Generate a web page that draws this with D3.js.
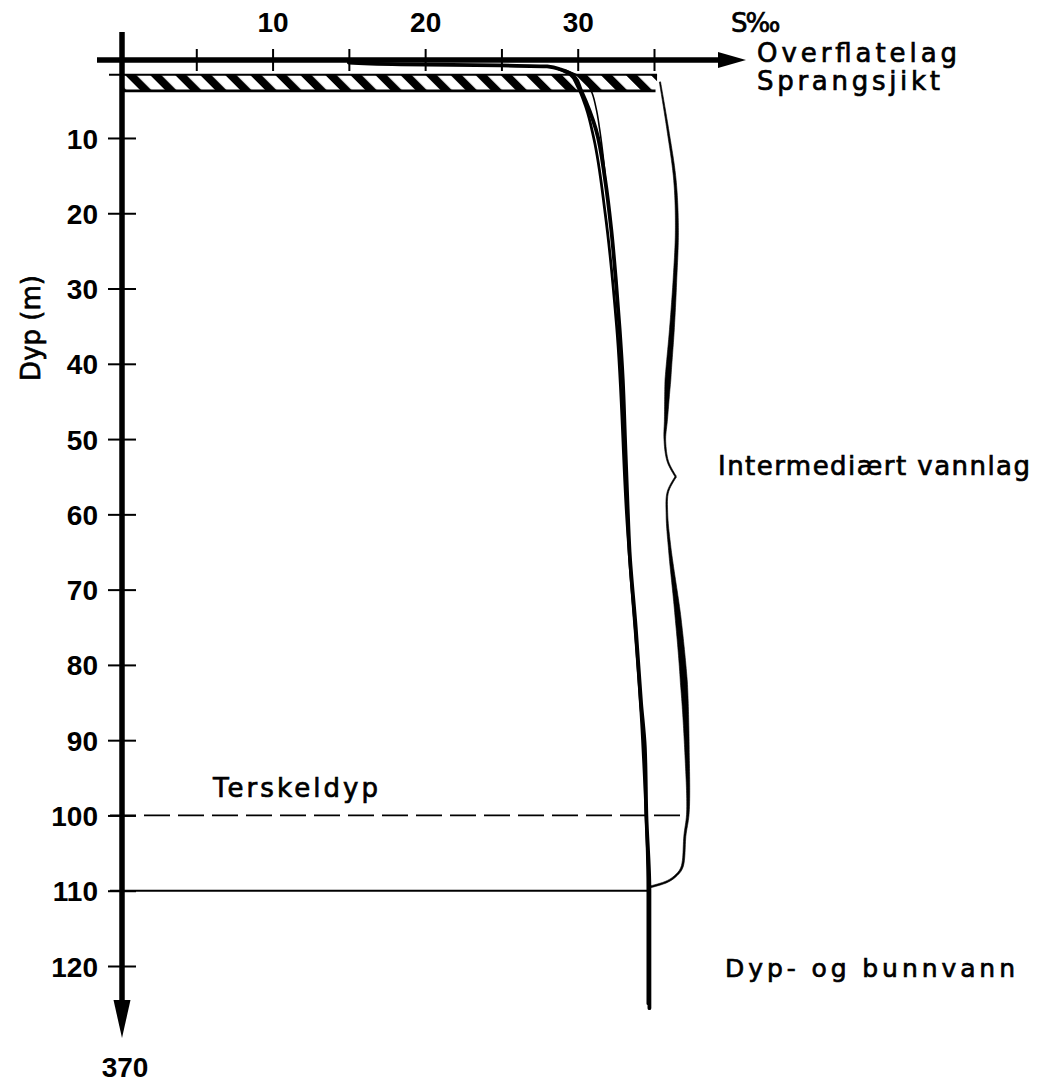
<!DOCTYPE html>
<html>
<head>
<meta charset="utf-8">
<script src="https://cdn.jsdelivr.net/npm/d3@7"></script>
<style>
  html, body { margin: 0; padding: 0; background: #fff; }
  svg { display: block; }
  .lbl { font-family: "DejaVu Sans", sans-serif; fill: #000; stroke: #000; stroke-width: 0.7px; }
  .num { font-family: "Liberation Sans", Arial, sans-serif; font-weight: 700; fill: #000; }
</style>
</head>
<body>
<div id="chart"></div>
<script>
// Salinity (S‰) profiles against depth (m).
const xTicks = [5, 10, 15, 20, 25, 30, 35];
const xLabels = [10, 20, 30];
const yTicks = [10, 20, 30, 40, 50, 60, 70, 80, 90, 100, 110, 120];

// main profile, starting with brackish surface water
const mainDepth = [0, 0.22, 0.36, 0.5, 0.9, 1.9, 3.6, 8.9, 15.6, 22.2, 28.9, 35.5, 42, 50, 58, 65, 75, 85, 91, 100, 110, 125.6];
const mainSal   = [15, 18.4, 24.9, 28.0, 28.9, 29.8, 30.2, 31.2, 31.8, 32.2, 32.5, 32.75, 32.95, 33.1, 33.25, 33.4, 33.8, 34.15, 34.4, 34.5, 34.7, 34.7];
// the other profiles in the bundle
const prof2Depth = [1.0, 2.0, 3.6, 6, 9, 13, 17];
const prof2Sal   = [29.2, 30.3, 30.85, 31.2, 31.45, 31.7, 31.9];
const prof3Depth = [0.8, 1.6, 3.0, 6, 10, 20, 35, 60, 90, 110, 125];
const prof3Sal   = [28.7, 29.5, 29.95, 30.55, 31.05, 31.8, 32.55, 33.2, 34.25, 34.6, 34.6];

// layer limits (m)
const sprangsjikt = [1.6, 3.75];
const terskelDyp = 100;
const bunnGrense = 110;
const maxDyp = "370";

// brace marking the intermediate layer
const braceDepth = [2.56, 8.94, 15.6, 22.2, 28.9, 35.5, 42.2, 47.5, 50.1, 53.0, 55.0, 57.0, 60.1, 64.7, 73.6, 82.4, 91.3, 99.7, 102.6, 106.9, 108.0, 108.8, 109.5];
const braceSal   = [35.39, 35.91, 36.37, 36.5, 36.37, 36.17, 35.91, 35.78, 35.71, 35.91, 36.43, 35.91, 35.85, 36.04, 36.57, 36.96, 37.16, 37.22, 37.03, 36.83, 36.43, 35.85, 34.73];

const W = 1053, H = 1082;
const svg = d3.select("#chart").append("svg").attr("width", W).attr("height", H);
svg.append("rect").attr("width", W).attr("height", H).attr("fill", "#fff");

const x = d3.scaleLinear().domain([0, 35]).range([120, 654]);
const y = d3.scaleLinear().domain([0, 120]).range([62.7, 966]);
const axisX = x(0) + 2, axisY = 60;

// hatch for the pycnocline band
const defs = svg.append("defs");
const pat = defs.append("pattern").attr("id", "hatch")
  .attr("patternUnits", "userSpaceOnUse")
  .attr("width", 17.7).attr("height", 20)
  .attr("patternTransform", "rotate(-45)");
pat.append("rect").attr("width", 17.7).attr("height", 20).attr("fill", "#fff");
pat.append("rect").attr("width", 8).attr("height", 20).attr("fill", "#000");

const bandTop = y(sprangsjikt[0]), bandBot = y(sprangsjikt[1]);
svg.append("rect")
  .attr("x", axisX).attr("y", bandTop)
  .attr("width", x(35.2) - axisX).attr("height", bandBot - bandTop)
  .attr("fill", "url(#hatch)");
svg.append("line").attr("x1", axisX - 13).attr("x2", x(35.2))
  .attr("y1", bandTop).attr("y2", bandTop).attr("stroke", "#000").attr("stroke-width", 1.8);
svg.append("line").attr("x1", axisX).attr("x2", x(35.1))
  .attr("y1", bandBot).attr("y2", bandBot).attr("stroke", "#000").attr("stroke-width", 2.8);

// threshold depth (dashed) and bottom-water boundary
svg.append("line")
  .attr("x1", axisX - 12).attr("x2", x(37.25))
  .attr("y1", y(terskelDyp)).attr("y2", y(terskelDyp))
  .attr("stroke", "#000").attr("stroke-width", 1.8)
  .attr("stroke-dasharray", "26 8");
svg.append("line")
  .attr("x1", axisX - 12).attr("x2", x(34.73))
  .attr("y1", y(bunnGrense)).attr("y2", y(bunnGrense))
  .attr("stroke", "#000").attr("stroke-width", 2);

// salinity profiles
const zip = (ds, ss) => ds.map((d, i) => ({ d, s: ss[i] }));
const line = d3.line().x(p => x(p.s)).y(p => y(p.d)).curve(d3.curveMonotoneY);
const g = svg.append("g").attr("fill", "none").attr("stroke", "#000")
  .attr("stroke-linecap", "round").attr("stroke-linejoin", "round");
g.append("path").attr("d", line(zip(prof3Depth, prof3Sal))).attr("stroke-width", 2.8);
g.append("path").attr("d", line(zip(prof2Depth, prof2Sal))).attr("stroke-width", 1.6);
g.append("path").attr("d", line(zip(mainDepth, mainSal))).attr("stroke-width", 3.8);

// brace: calligraphic ribbon with a pointed tip
const braceWeight = [1.2, 1.8, 2.4, 3.0, 3.6, 4.8, 5.8, 3, 1.6, 1.4, 1.4, 1.4, 1.6, 2.6, 5.8, 7, 4.5, 2.5, 2, 2, 1.8, 1.8, 1.8];
const wAt = d3.scaleLinear().domain(braceDepth).range(braceWeight);
const tipIdx = 10;
const bracePts = zip(braceDepth, braceSal);
const segLine = d3.line().x(p => x(p.s)).y(p => y(p.d)).curve(d3.curveCatmullRom.alpha(0.5));
function ribbon(pts) {
  const tmp = svg.append("path").attr("d", segLine(pts)).attr("fill", "none");
  const node = tmp.node(), len = node.getTotalLength();
  const n = 160, samples = [];
  for (let i = 0; i <= n; i++) samples.push(node.getPointAtLength(len * i / n));
  tmp.remove();
  const left = [], right = [];
  samples.forEach((p, i) => {
    const a = samples[Math.max(0, i - 1)], b = samples[Math.min(n, i + 1)];
    let tx = b.x - a.x, ty = b.y - a.y;
    const l = Math.hypot(tx, ty) || 1; tx /= l; ty /= l;
    const w = wAt(y.invert(p.y)) / 2;
    left.push([p.x - ty * w, p.y + tx * w]);
    right.push([p.x + ty * w, p.y - tx * w]);
  });
  svg.append("path")
    .attr("d", "M" + left.concat(right.reverse()).map(q => q.join(",")).join("L") + "Z")
    .attr("fill", "#000").attr("stroke", "#000").attr("stroke-width", 0.6);
}
ribbon(bracePts.slice(0, tipIdx + 1));
ribbon(bracePts.slice(tipIdx));

// axes: thick arrows with crossing ticks
svg.append("line").attr("x1", 97).attr("x2", 722).attr("y1", axisY).attr("y2", axisY)
  .attr("stroke", "#000").attr("stroke-width", 5.5);
svg.append("path").attr("d", `M718,${axisY - 8}L746,${axisY}L718,${axisY + 8}Z`).attr("fill", "#000");
svg.append("line").attr("x1", axisX).attr("x2", axisX).attr("y1", 32).attr("y2", 1005)
  .attr("stroke", "#000").attr("stroke-width", 5.5);
svg.append("path").attr("d", `M${axisX - 8.5},1000L${axisX},1038L${axisX + 8.5},1000Z`).attr("fill", "#000");

const gxTicks = svg.append("g").attr("transform", `translate(0,${axisY - 11})`)
  .call(d3.axisBottom(x).tickValues(xTicks).tickSize(22).tickFormat(""));
const gyTicks = svg.append("g").attr("transform", `translate(${axisX - 14},0)`)
  .call(d3.axisRight(y).tickValues(yTicks).tickSize(28).tickFormat(""));
[gxTicks, gyTicks].forEach(a => {
  a.select(".domain").remove();
  a.selectAll(".tick line").attr("stroke", "#000").attr("stroke-width", 2);
});

const gxLab = svg.append("g").attr("transform", `translate(0,${axisY})`)
  .call(d3.axisTop(x).tickValues(xLabels).tickSize(0).tickPadding(28));
const gyLab = svg.append("g").attr("transform", `translate(${axisX},0)`)
  .call(d3.axisLeft(y).tickValues(yTicks).tickSize(0).tickPadding(24));
[gxLab, gyLab].forEach(a => {
  a.select(".domain").remove();
  a.selectAll("text").attr("class", "num").attr("font-size", 28).attr("fill", "#000");
});
gyLab.selectAll("text").attr("dy", "0.36em");

svg.append("text").attr("class", "num").attr("x", axisX + 3).attr("y", 1077)
  .attr("text-anchor", "middle").attr("font-size", 28).text(maxDyp);

// labels
const labels = [
  { t: "Overflatelag", x: 757, y: 62, size: 26, w: 200 },
  { t: "Sprangsjikt", x: 757, y: 90, size: 26, w: 183 },
  { t: "Intermediært vannlag", x: 718, y: 475, size: 26, w: 312 },
  { t: "Dyp- og bunnvann", x: 725, y: 977, size: 25, w: 290 },
  { t: "Terskeldyp", x: 213, y: 797, size: 26, w: 165 }
];
svg.selectAll("text.ann").data(labels).enter().append("text")
  .attr("class", "lbl ann")
  .attr("x", d => d.x).attr("y", d => d.y)
  .attr("font-size", d => d.size)
  .attr("textLength", d => d.w).attr("lengthAdjust", "spacing")
  .text(d => d.t);

svg.append("text").attr("class", "lbl").attr("x", 731).attr("y", 32)
  .attr("font-size", 26).attr("letter-spacing", -2).text("S‰");

svg.append("text").attr("class", "lbl")
  .attr("transform", "translate(40,328) rotate(-90)")
  .attr("text-anchor", "middle").attr("font-size", 26)
  .text("Dyp (m)");
</script>
</body>
</html>
